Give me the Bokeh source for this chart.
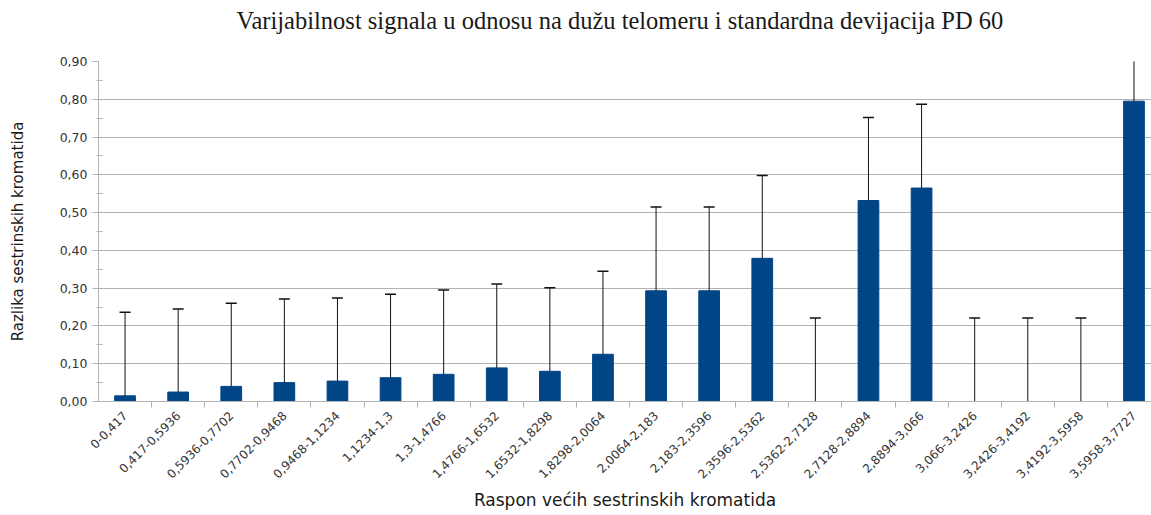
import math
from bokeh.plotting import figure
from bokeh.models import Range1d, FixedTicker, ColumnDataSource, Title
from bokeh.embed import file_html
from bokeh.resources import INLINE

title_text = "Varijabilnost signala u odnosu na dužu telomeru i standardna devijacija PD 60"
categories = ["0-0,417", "0,417-0,5936", "0,5936-0,7702", "0,7702-0,9468", "0,9468-1,1234",
              "1,1234-1,3", "1,3-1,4766", "1,4766-1,6532", "1,6532-1,8298", "1,8298-2,0064",
              "2,0064-2,183", "2,183-2,3596", "2,3596-2,5362", "2,5362-2,7128", "2,7128-2,8894",
              "2,8894-3,066", "3,066-3,2426", "3,2426-3,4192", "3,4192-3,5958", "3,5958-3,7727"]
values = [0.015, 0.025, 0.040, 0.050, 0.054, 0.063, 0.072, 0.089, 0.080, 0.125,
          0.293, 0.293, 0.379, 0.0, 0.532, 0.565, 0.0, 0.0, 0.0, 0.795]
std_dev = [0.221, 0.220, 0.220, 0.221, 0.220, 0.221, 0.223, 0.222, 0.221, 0.220,
           0.222, 0.222, 0.219, 0.221, 0.220, 0.222, 0.221, 0.221, 0.221, 0.220]
y_ticks = [0.0, 0.1, 0.2, 0.3, 0.4, 0.5, 0.6, 0.7, 0.8, 0.9]
y_tick_labels = ["0,00", "0,10", "0,20", "0,30", "0,40", "0,50", "0,60", "0,70", "0,80", "0,90"]

xs = list(range(len(categories)))
upper = [v + s for v, s in zip(values, std_dev)]
src = ColumnDataSource(dict(x=xs, top=values, upper=upper))

p = figure(width=1151, height=515, x_range=Range1d(-0.5, 19.33), y_range=Range1d(0, 0.9),
           output_backend="svg", toolbar_location=None, title=None,
           min_border_left=98, min_border_right=0, min_border_top=61, min_border_bottom=114)

# spacer between frame and title (closest to frame), then the real title above it
p.add_layout(Title(text=" ", text_font_size="1px", standoff=24), "above")
p.add_layout(Title(text=title_text, text_font="Liberation Serif", text_font_size="24.5px",
                   text_font_style="normal", text_color="#1a1a1a", align="left", offset=138,
                   vertical_align="middle", standoff=0), "above")

p.outline_line_color = None
p.background_fill_color = "white"
p.xgrid.grid_line_color = None
p.ygrid.grid_line_color = "#b3b3b3"
p.ygrid.grid_line_width = 1

p.vbar(x="x", top="top", width=0.39, source=src, fill_color="#004586", line_color="#004586")
p.segment(x0="x", y0="top", x1="x", y1="upper", source=src, line_color="#111111", line_width=1)
p.dash(x="x", y="upper", source=src, size=11, line_color="#111111", line_width=1.5)

# y axis
yax = p.yaxis[0]
yax.ticker = FixedTicker(ticks=y_ticks, minor_ticks=[t + 0.05 for t in y_ticks[:-1]])
yax.major_label_overrides = {t: l for t, l in zip(y_ticks, y_tick_labels)}
yax.axis_label = "Razlika sestrinskih kromatida"
yax.axis_label_text_font = "DejaVu Sans"
yax.axis_label_text_font_size = "15px"
yax.axis_label_text_font_style = "normal"
yax.axis_label_text_color = "#1a1a1a"
yax.axis_label_standoff = 30
yax.major_label_text_font = "DejaVu Sans"
yax.major_label_text_font_size = "12.5px"
yax.major_label_text_color = "#333333"
yax.major_label_standoff = 5
yax.axis_line_color = "#b3b3b3"
yax.major_tick_line_color = "#b3b3b3"
yax.minor_tick_line_color = "#b3b3b3"
yax.major_tick_out = 6
yax.major_tick_in = 0
yax.minor_tick_in = 4
yax.minor_tick_out = 2

# x axis
xax = p.xaxis[0]
xax.ticker = FixedTicker(ticks=xs, minor_ticks=[x + 0.5 for x in xs])
xax.major_label_overrides = {x: c for x, c in zip(xs, categories)}
xax.major_label_orientation = math.pi / 4
xax.major_label_text_font = "DejaVu Sans"
xax.major_label_text_font_size = "12px"
xax.major_label_text_color = "#333333"
xax.major_label_standoff = 6
xax.major_tick_out = 0
xax.major_tick_in = 0
xax.minor_tick_out = 6
xax.minor_tick_in = 0
xax.axis_line_color = "#b3b3b3"
xax.minor_tick_line_color = "#b3b3b3"
xax.axis_label = "Raspon većih sestrinskih kromatida"
xax.axis_label_text_font = "DejaVu Sans"
xax.axis_label_text_font_size = "17px"
xax.axis_label_text_font_style = "normal"
xax.axis_label_text_color = "#1a1a1a"
xax.axis_label_standoff = 5

open("out.html", "w").write(file_html(p, INLINE))
